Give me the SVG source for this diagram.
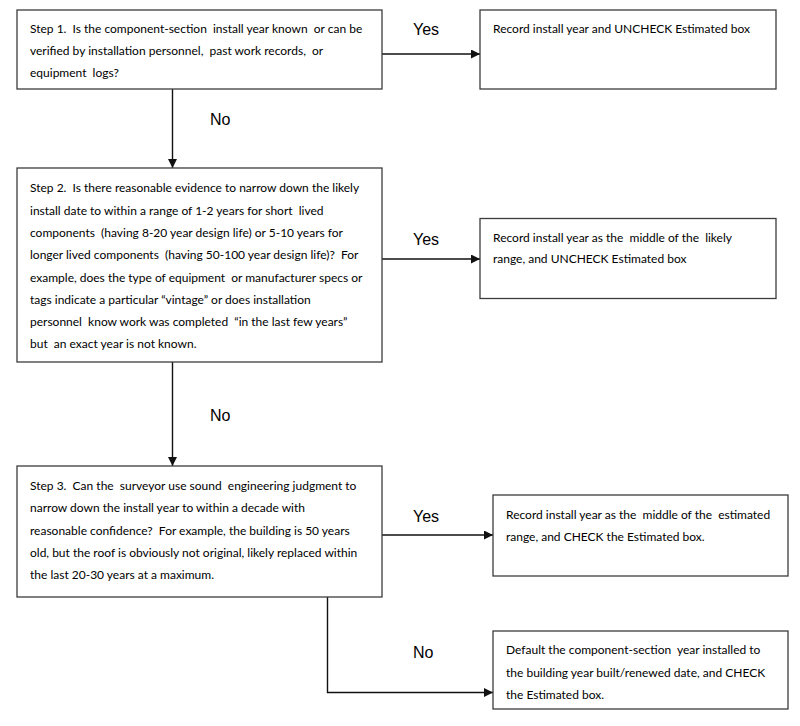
<svg xmlns="http://www.w3.org/2000/svg" width="800" height="726" viewBox="0 0 800 726">
  <style>
    .box { fill: #ffffff; stroke: #3c3c3c; stroke-width: 1.3; }
    .txt { font-family: Lato, "Liberation Sans", sans-serif; font-size: 12px; fill: #000000; white-space: pre; }
    .lbl { font-family: "Liberation Sans", Arial, sans-serif; font-size: 16px; fill: #000000; }
    .wire { fill: none; stroke: #111111; stroke-width: 1.4; }
  </style>
  <defs>
    <marker id="arrow" viewBox="0 0 10 10" refX="10" refY="5" markerWidth="9" markerHeight="9" markerUnits="userSpaceOnUse" orient="auto">
      <path d="M0,0 L10,5 L0,10 Z" fill="#111111"/>
    </marker>
  </defs>
  <rect width="800" height="726" fill="#ffffff"/>

  <!-- connectors -->
  <g id="connectors">
    <path class="wire" d="M382,54 H480" marker-end="url(#arrow)"/>
    <path class="wire" d="M172.5,89 V168" marker-end="url(#arrow)"/>
    <path class="wire" d="M382,259 H480" marker-end="url(#arrow)"/>
    <path class="wire" d="M172.5,362 V466" marker-end="url(#arrow)"/>
    <path class="wire" d="M382,535 H493" marker-end="url(#arrow)"/>
    <path class="wire" d="M327.5,597 V692.5 H493" marker-end="url(#arrow)"/>
    <text class="lbl" x="413" y="35">Yes</text>
    <text class="lbl" x="210" y="125">No</text>
    <text class="lbl" x="413" y="245">Yes</text>
    <text class="lbl" x="210" y="421">No</text>
    <text class="lbl" x="413" y="522">Yes</text>
    <text class="lbl" x="413" y="658">No</text>
  </g>

  <g id="step1">
    <rect class="box" x="17" y="10" width="365" height="79"/>
    <text class="txt" x="30" y="32.5">Step 1.  Is the component-section  install year known  or can be</text>
    <text class="txt" x="30" y="55">verified by installation personnel,  past work records,  or</text>
    <text class="txt" x="30" y="77">equipment  logs?</text>
  </g>

  <g id="record1">
    <rect class="box" x="480" y="10" width="296" height="79"/>
    <text class="txt" x="493" y="32.5">Record install year and UNCHECK Estimated box</text>
  </g>

  <g id="step2">
    <rect class="box" x="17" y="168" width="365" height="194"/>
    <text class="txt" x="30" y="192.3">Step 2.  Is there reasonable evidence to narrow down the likely</text>
    <text class="txt" x="30" y="214.6">install date to within a range of 1-2 years for short  lived</text>
    <text class="txt" x="30" y="236.9">components  (having 8-20 year design life) or 5-10 years for</text>
    <text class="txt" x="30" y="259.2">longer lived components  (having 50-100 year design life)?  For</text>
    <text class="txt" x="30" y="281.5">example, does the type of equipment  or manufacturer specs or</text>
    <text class="txt" x="30" y="303.8">tags indicate a particular “vintage” or does installation</text>
    <text class="txt" x="30" y="326.1">personnel  know work was completed  “in the last few years”</text>
    <text class="txt" x="30" y="348.4">but  an exact year is not known.</text>
  </g>

  <g id="record2">
    <rect class="box" x="480" y="218.5" width="296" height="80"/>
    <text class="txt" x="493" y="241.5">Record install year as the  middle of the  likely</text>
    <text class="txt" x="493" y="263">range, and UNCHECK Estimated box</text>
  </g>

  <g id="step3">
    <rect class="box" x="17" y="466" width="365" height="131"/>
    <text class="txt" x="30" y="490">Step 3.  Can the  surveyor use sound  engineering judgment to</text>
    <text class="txt" x="30" y="512.3">narrow down the install year to within a decade with</text>
    <text class="txt" x="30" y="534.5">reasonable confidence?  For example, the building is 50 years</text>
    <text class="txt" x="30" y="556.8">old, but the roof is obviously not original, likely replaced within</text>
    <text class="txt" x="30" y="579">the last 20-30 years at a maximum.</text>
  </g>

  <g id="record3">
    <rect class="box" x="493" y="495" width="295" height="81"/>
    <text class="txt" x="506" y="519">Record install year as the  middle of the  estimated</text>
    <text class="txt" x="506" y="541">range, and CHECK the Estimated box.</text>
  </g>

  <g id="default">
    <rect class="box" x="493" y="631" width="295" height="78"/>
    <text class="txt" x="506" y="654">Default the component-section  year installed to</text>
    <text class="txt" x="506" y="677">the building year built/renewed date, and CHECK</text>
    <text class="txt" x="506" y="699">the Estimated box.</text>
  </g>
</svg>
